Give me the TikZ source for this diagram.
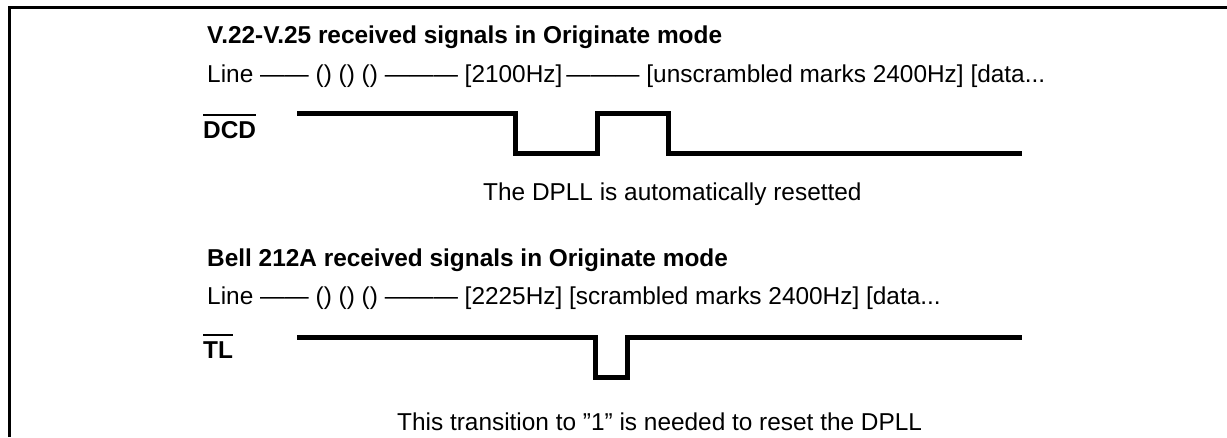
\documentclass[tikz,border=0pt]{standalone}
\usepackage{fontspec}
\setmainfont{Liberation Sans}
\newcommand{\sigbar}[1]{\vbox{\hrule height 2pt\vskip 5pt\hbox{\bfseries #1}}}

\begin{document}
\begin{tikzpicture}[x=1pt,y=-1pt,
  txt/.style={anchor=base west,inner sep=0pt,font=\fontsize{24.4}{28}\selectfont},
  title/.style={txt,font=\fontsize{24.4}{28}\selectfont\bfseries},
  wave/.style={line width=5pt,line join=miter},
  frame/.style={line width=3pt}]

  \useasboundingbox (0,0) rectangle (1227,437);
  \draw[frame] (9,437) -- (9,7) -- (1227,7);

  % V.22 / V.25
  \node[title] (t1) at (207,43) {V.22-V.25 received signals in Originate mode};
  \node[txt] (l1) at (207,82) {Line —— () () () ——— [2100Hz]\,——— [unscrambled marks 2400Hz] [data...};
  \node[txt] (dcd) at (203,138) {\sigbar{DCD}};
  \draw[wave] (297,113) -- (515,113) -- (515,153) -- (597,153) -- (597,113)
    -- (668,113) -- (668,153) -- (1022,153);
  \node[txt] (n1) at (483,200) {The DPLL is automatically resetted};

  % Bell 212A
  \node[title] (t2) at (207,266) {Bell 212A received signals in Originate mode};
  \node[txt] (l2) at (207,304) {Line —— () () () ——— [2225Hz] [scrambled marks 2400Hz] [data...};
  \node[txt] (tl) at (203,358) {\sigbar{TL}};
  \draw[wave] (297,337) -- (595,337) -- (595,377) -- (627,377) -- (627,337) -- (1022,337);
  \node[txt] (n2) at (397,430) {This transition to ''1'' is needed to reset the DPLL};
\end{tikzpicture}
\end{document}
